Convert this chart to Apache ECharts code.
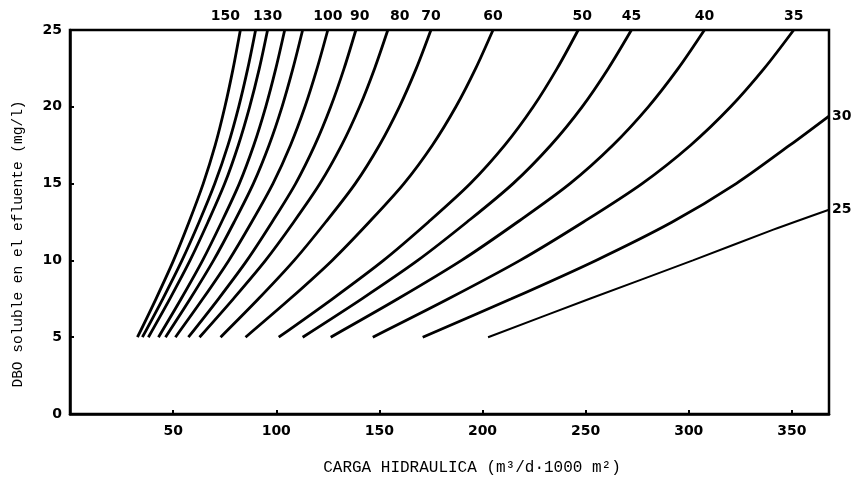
<!DOCTYPE html>
<html>
<head>
<meta charset="utf-8">
<script src="https://cdn.jsdelivr.net/npm/echarts@6/dist/echarts.min.js"></script>
<style>
    html, body { margin: 0; padding: 0; background: #fff; }
    #chart { width: 853px; height: 481px; }
</style>
</head>
<body>
<div id="chart"></div>
<script>
    // DBO levels (mg/l) where each curve was read
    var dboLevels = [5, 7.5, 10, 12.5, 15, 17.5, 20, 22.5, 25];
    // carga hidraulica read on each curve at those levels
    var carga150 = [32.7, 41.7, 50.2, 57.7, 64.6, 70.4, 75.1, 79.1, 82.6];
    var carga140 = [35.1, 45.0, 54.3, 62.6, 70.2, 76.6, 81.8, 86.2, 90.0];
    var carga130 = [38.0, 48.4, 58.2, 66.9, 75.0, 81.6, 87.1, 91.8, 95.8];
    var carga120 = [42.9, 53.9, 64.3, 73.5, 82.1, 89.1, 94.9, 99.8, 104.1];
    var carga110 = [46.3, 58.3, 69.6, 79.6, 88.9, 96.5, 102.8, 108.1, 112.8];
    var carga100 = [51.1, 64.4, 77.0, 88.1, 98.4, 106.9, 113.9, 119.8, 125.0];
    var carga90 = [57.4, 72.0, 85.8, 98.0, 109.4, 118.7, 126.4, 132.9, 138.6];
    var carga80 = [62.8, 79.2, 94.8, 108.5, 121.2, 131.7, 140.4, 147.7, 154.1];
    var carga70 = [73.0, 91.4, 108.7, 124.0, 138.3, 150.0, 159.7, 167.9, 175.0];
    var carga60 = [85.1, 106.7, 127.1, 145.1, 161.9, 175.7, 187.1, 196.7, 205.1];
    var carga50 = [101.2, 127.3, 152.0, 173.8, 194.1, 210.8, 224.6, 236.2, 246.4];
    var carga45 = [112.8, 141.5, 168.6, 192.5, 214.8, 233.1, 248.3, 261.0, 272.2];
    var carga40 = [126.4, 159.0, 189.8, 217.0, 242.4, 263.2, 280.4, 294.9, 307.6];
    var carga35 = [146.8, 183.5, 218.2, 248.9, 277.4, 300.9, 320.3, 336.6, 350.9];
    // the two lowest curves leave through the right edge
    var dbo30 = [5, 7.5, 10, 12.5, 15, 17.5, 19.4];
    var carga30 = [171, 214, 255, 292, 323, 349, 368];
    var dbo25 = [5, 7.5, 10, 12, 13.3];
    var carga25 = [202.7, 252, 302, 341, 368];

    var xTicks = [50, 100, 150, 200, 250, 300, 350];
    var yTicks = [0, 5, 10, 15, 20, 25];

    var curves = [
        {name: '150', x: carga150, y: dboLevels, label: 'top'},
        {name: '140', x: carga140, y: dboLevels},
        {name: '130', x: carga130, y: dboLevels, label: 'top'},
        {name: '120', x: carga120, y: dboLevels},
        {name: '110', x: carga110, y: dboLevels},
        {name: '100', x: carga100, y: dboLevels, label: 'top'},
        {name: '90', x: carga90, y: dboLevels, label: 'top'},
        {name: '80', x: carga80, y: dboLevels, label: 'top'},
        {name: '70', x: carga70, y: dboLevels, label: 'top'},
        {name: '60', x: carga60, y: dboLevels, label: 'top'},
        {name: '50', x: carga50, y: dboLevels, label: 'top'},
        {name: '45', x: carga45, y: dboLevels, label: 'top'},
        {name: '40', x: carga40, y: dboLevels, label: 'top'},
        {name: '35', x: carga35, y: dboLevels, label: 'top'},
        {name: '30', x: carga30, y: dbo30, label: 'right'},
        {name: '25', x: carga25, y: dbo25, label: 'right'}
    ];
    // small nudges so the labels sit where the drawing put them
    var labelShift = {'150': -15, '80': 12, '90': 4, '50': 4};

    var tickFont = {fontSize: 14, fontWeight: 'bold', fontFamily: 'DejaVu Sans', color: '#000'};

    var series = curves.map(function (c) {
        var data = c.x.map(function (v, i) { return [v, c.y[i]]; });
        if (c.label) {
            var last = data.length - 1;
            data[last] = {
                value: data[last],
                label: Object.assign({
                    show: true,
                    formatter: c.name,
                    position: c.label,
                    distance: c.label === 'top' ? 7 : 3,
                    offset: [labelShift[c.name] || 0, 0]
                }, tickFont)
            };
        }
        return {
            type: 'line',
            name: c.name,
            data: data,
            smooth: 0.3,
            symbol: 'circle',
            symbolSize: 0,
            clip: false,
            silent: true,
            label: {show: false},
            lineStyle: {color: '#000', width: c.name === '25' ? 2 : 2.8}
        };
    });

    var chart = echarts.init(document.getElementById('chart'));
    chart.setOption({
        animation: false,
        backgroundColor: '#fff',
        grid: {
            left: 70, right: 24, top: 30, bottom: 65,
            show: true, borderColor: '#000', borderWidth: 2.5
        },
        xAxis: {
            type: 'value',
            min: 0,
            max: 368,
            interval: 50,
            name: 'CARGA HIDRAULICA (m³/d·1000 m²)',
            nameLocation: 'middle',
            nameGap: 46,
            nameTextStyle: {fontSize: 16, fontFamily: 'Liberation Mono', color: '#000', padding: [0, 0, 0, 45]},
            splitLine: {show: false},
            axisLine: {lineStyle: {color: '#000', width: 2.5}},
            axisTick: {inside: true, length: 4, lineStyle: {color: '#000', width: 2}},
            axisLabel: Object.assign({
                margin: 10,
                showMaxLabel: false,
                formatter: function (v) { return xTicks.indexOf(v) >= 0 ? String(v) : ''; }
            }, tickFont)
        },
        yAxis: {
            type: 'value',
            min: 0,
            max: 25,
            interval: 5,
            name: 'DBO soluble en el efluente (mg/l)',
            nameLocation: 'middle',
            nameRotate: 90,
            nameGap: 44,
            nameTextStyle: {fontSize: 14.5, fontFamily: 'Liberation Mono', color: '#000', padding: [0, 44, 0, 0]},
            splitLine: {show: false},
            axisLine: {lineStyle: {color: '#000', width: 2.5}},
            axisTick: {inside: true, length: 4, lineStyle: {color: '#000', width: 2}},
            axisLabel: Object.assign({
                margin: 8,
                formatter: function (v) { return yTicks.indexOf(v) >= 0 ? String(v) : ''; }
            }, tickFont)
        },
        series: series
    });
</script>
</body>
</html>
